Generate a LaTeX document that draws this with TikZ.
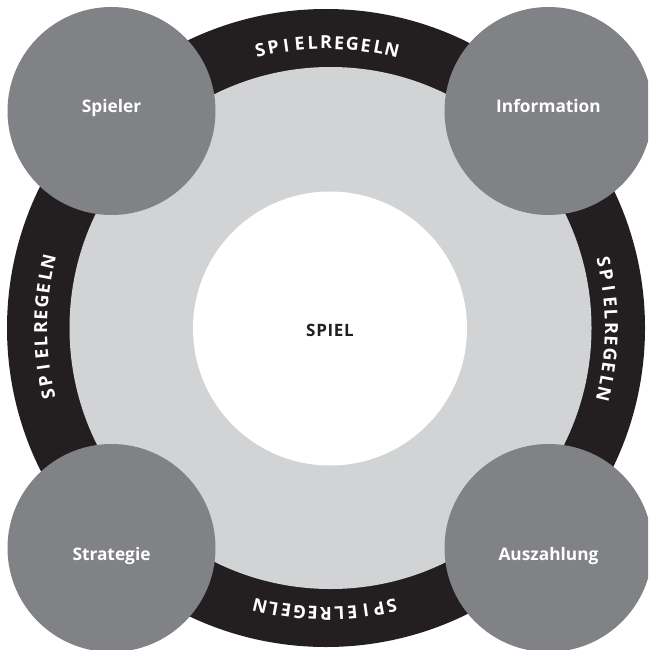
\documentclass[tikz,border=0pt]{standalone}
\usepackage{fontspec}
\setmainfont{Open Sans}
\usetikzlibrary{calc}
\definecolor{ringblack}{HTML}{231F20}
\definecolor{fieldgray}{HTML}{D1D3D4}
\definecolor{rolegray}{HTML}{808285}
\newcommand{\ringfont}{\fontsize{18}{18}\selectfont\bfseries}
\newcommand{\ringletters}{S,P,I,E,L,R,E,G,E,L,N}
\newdimen\accw \newdimen\chw \newdimen\sumw
\tikzset{
  disc/.style={circle, inner sep=0pt, outer sep=0pt, draw=none},
  rolecircle/.style={disc, fill=rolegray, minimum size=208pt},
  rolelabel/.style={anchor=base, text=white, inner sep=0pt, font=\fontsize{17.3}{17.3}\selectfont\bfseries},
  ringletter/.style={anchor=base, inner sep=0pt, outer sep=0pt, text=white, font=\ringfont}
}
\begin{document}
\begin{tikzpicture}[x=1pt,y=1pt]
\useasboundingbox (0,0) rectangle (648,-650);
\clip (0,0) rectangle (648,-650);
\fill[white] (0,0) rectangle (648,-650);
\coordinate (rc) at (326,-328);
\node[disc, fill=ringblack, minimum size=638pt] (ring) at (rc) {};
\node[disc, fill=fieldgray, minimum size=522pt] (field) at (330.5,-328) {};
\node[disc, fill=white, minimum size=274pt] (spiel) at (330,-328.5) {};
\node[anchor=base, inner sep=0pt, text=ringblack, font=\fontsize{17}{17}\selectfont\bfseries\addfontfeature{LetterSpace=4}] (spiellabel) at (330,-336) {SPIEL};
% ring lettering
\global\sumw=0pt
\foreach \ch in \ringletters {\setbox0\hbox{\ringfont\ch}\global\advance\sumw by \wd0}
\pgfmathsetmacro\ringgap{(130-\sumw)/10}
\foreach \c [count=\k] in {90,0,-90,180}{
  \global\accw=0pt
  \foreach \ch [count=\j] in \ringletters {
    \setbox0\hbox{\ringfont\ch}\chw=\wd0
    \pgfmathsetmacro\ang{\c + (65 - \accw - 0.5*\chw)/279*180/pi}
    \node[ringletter, rotate=\ang-90] (r\k-\j) at ($(rc)+(\ang:279)$) {\ch};
    \global\advance\accw by \chw
    \global\advance\accw by \ringgap pt
  }
}
\node[rolecircle] (spieler) at (111.5,-111) {};
\node[rolecircle] (information) at (548.5,-111) {};
\node[rolecircle] (strategie) at (111.5,-548) {};
\node[rolecircle] (auszahlung) at (548.5,-548) {};
\node[rolelabel] (spielerlabel) at (111.5,-113) {Spieler};
\node[rolelabel] (informationlabel) at (548.5,-113) {Information};
\node[rolelabel] (strategielabel) at (111.5,-560) {Strategie};
\node[rolelabel] (auszahlunglabel) at (548.5,-560) {Auszahlung};
\end{tikzpicture}
\end{document}
